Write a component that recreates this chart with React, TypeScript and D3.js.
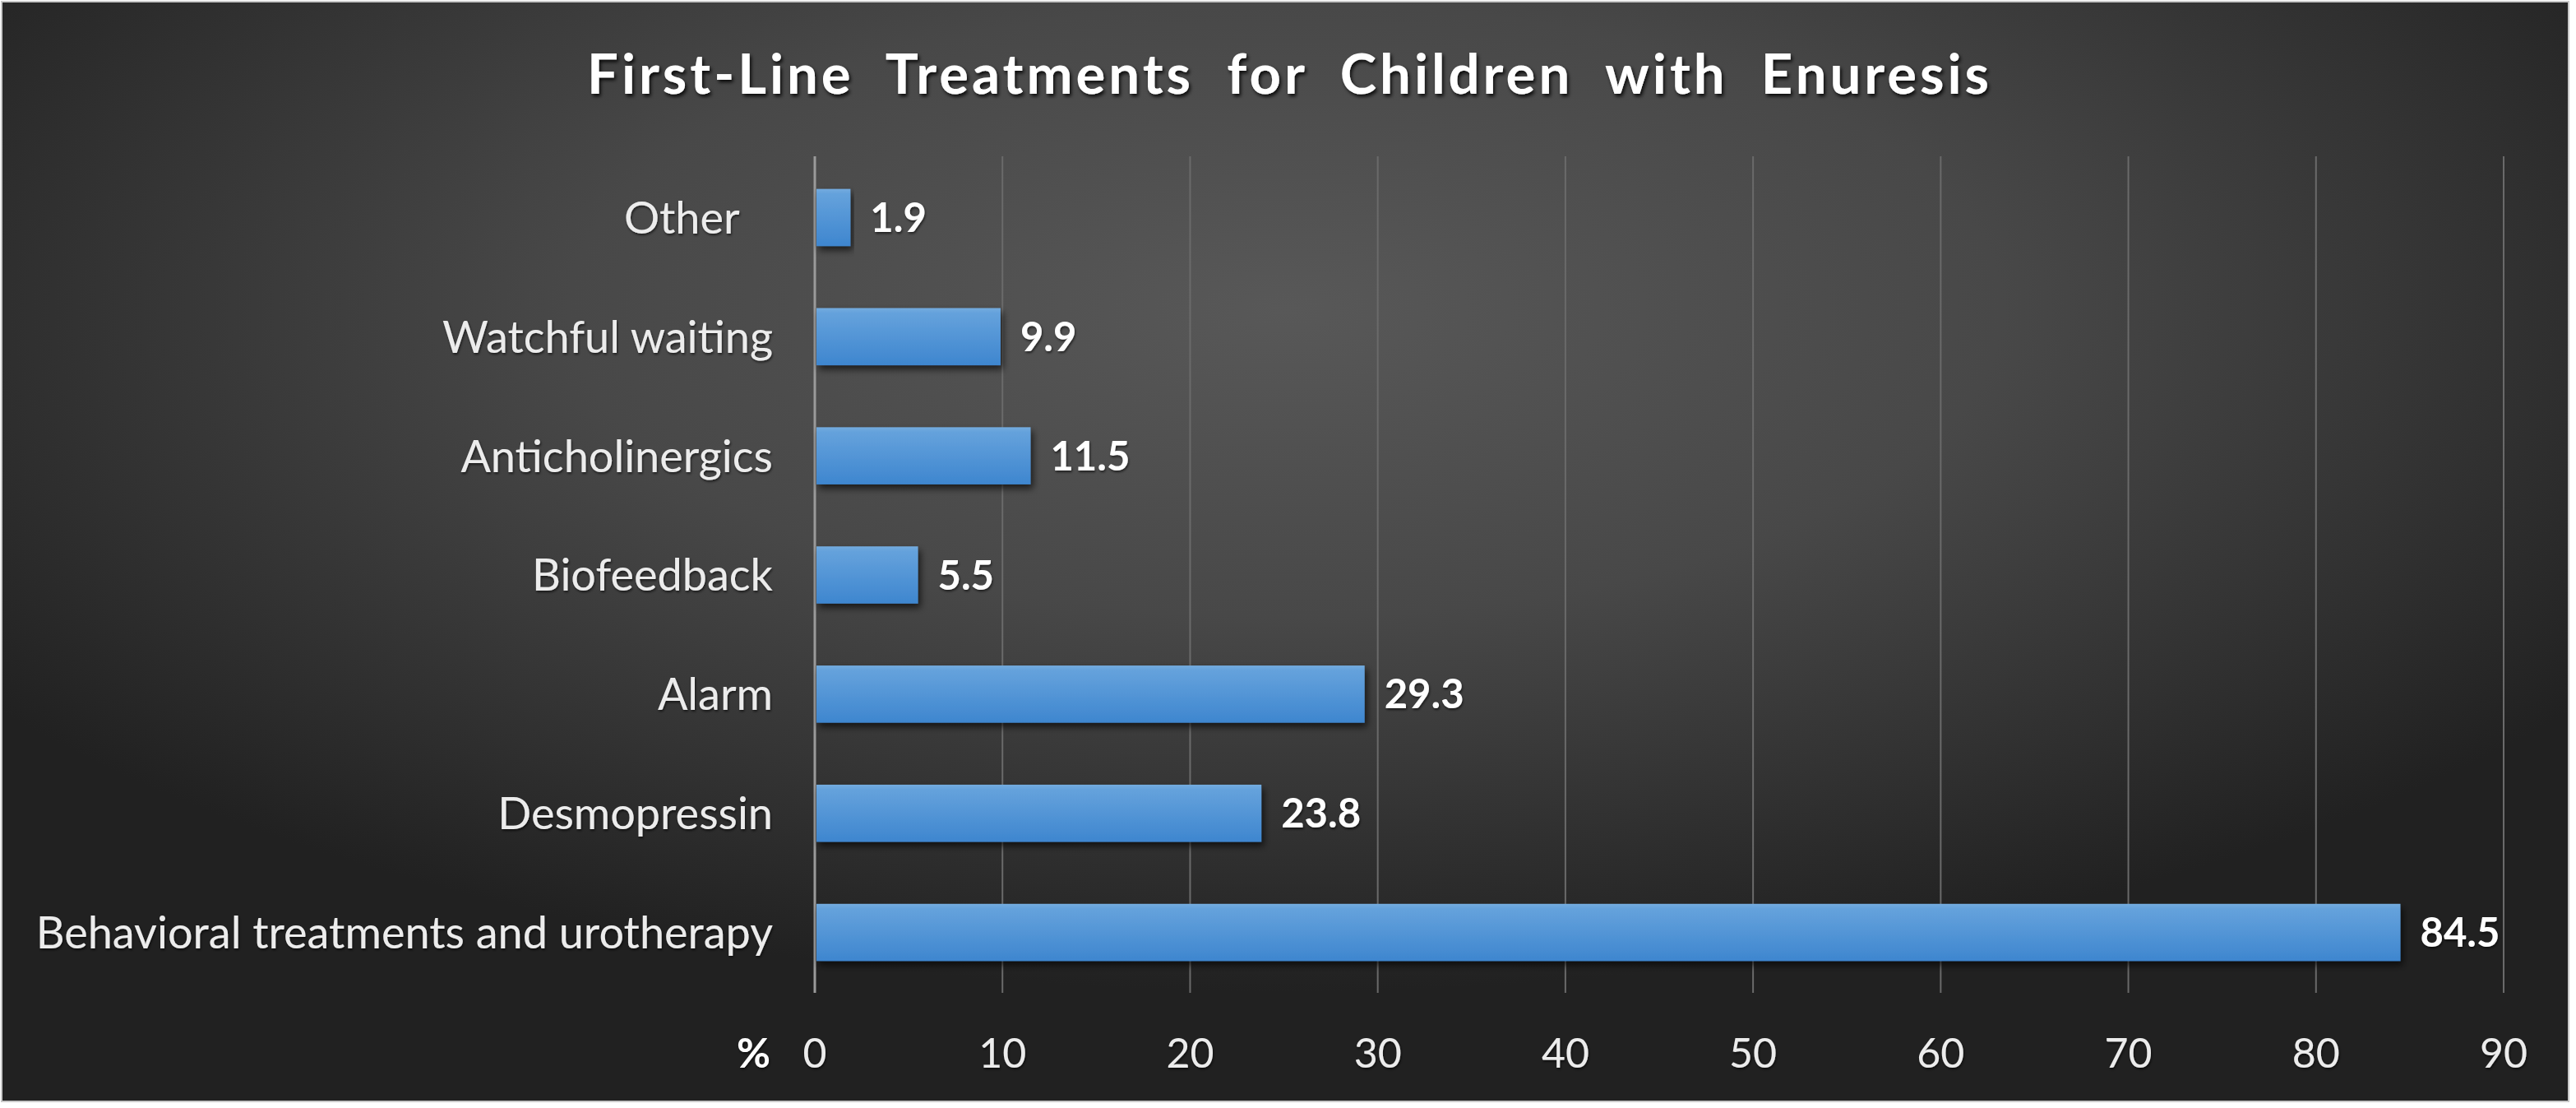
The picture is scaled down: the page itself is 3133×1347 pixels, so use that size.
import * as d3 from "d3";

const categories = [
  "Other   ",
  "Watchful waiting",
  "Anticholinergics",
  "Biofeedback",
  "Alarm",
  "Desmopressin",
  "Behavioral treatments and urotherapy",
];
const values = [1.9, 9.9, 11.5, 5.5, 29.3, 23.8, 84.5];
const xTicks = [0, 10, 20, 30, 40, 50, 60, 70, 80, 90];
const xUnit = "%";
const title = "First-Line Treatments for Children with Enuresis";

const W = 3133;
const H = 1347;
const FONT = "Lato, 'Open Sans', sans-serif";

export default function App() {
  const x = d3.scaleLinear().domain([0, 90]).range([991, 3045]);
  const y = d3
    .scaleBand<string>()
    .domain(categories)
    .range([192, 1206])
    .paddingInner(0.52)
    .paddingOuter(0.26);

  const gridTop = 190;
  const gridBottom = 1207;
  const tickY = 1280;

  return (
    <svg
      width={W}
      height={H}
      style={{ position: "fixed", left: 0, top: 0, background: "#fff" }}
      fontFamily={FONT}
    >
      <defs>
        <radialGradient id="bg" cx="50%" cy="28%" r="62%">
          <stop offset="0%" stopColor="#585858" />
          <stop offset="45%" stopColor="#484848" />
          <stop offset="100%" stopColor="#212121" />
        </radialGradient>
        <linearGradient id="bar" x1="0" y1="0" x2="0" y2="1">
          <stop offset="0%" stopColor="#74acdf" />
          <stop offset="8%" stopColor="#65a2dc" />
          <stop offset="100%" stopColor="#3e86cf" />
        </linearGradient>
        <filter id="barShadow" x="-5%" y="-30%" width="115%" height="180%">
          <feDropShadow dx="3" dy="5" stdDeviation="4" floodColor="#000" floodOpacity="0.65" />
        </filter>
        <filter id="textShadow" x="-5%" y="-30%" width="110%" height="170%">
          <feDropShadow dx="2" dy="3" stdDeviation="2" floodColor="#000" floodOpacity="0.85" />
        </filter>
        <filter id="softShadow" x="-5%" y="-30%" width="110%" height="170%">
          <feDropShadow dx="1" dy="2" stdDeviation="1.5" floodColor="#000" floodOpacity="0.6" />
        </filter>
      </defs>

      <rect x={2} y={2} width={3122} height={1337} fill="url(#bg)" stroke="#c8c8c8" strokeWidth={2} />

      <text
        x={W / 2 + 2}
        y={114}
        textAnchor="middle"
        fill="#ffffff"
        fontSize={67}
        fontWeight="bold"
        style={{ wordSpacing: "20px", letterSpacing: "4px" }}
        filter="url(#textShadow)"
      >
        {title}
      </text>

      {/* vertical gridlines */}
      {xTicks.map((t) => (
        <line
          key={"g" + t}
          x1={x(t)}
          x2={x(t)}
          y1={gridTop}
          y2={gridBottom}
          stroke={t === 0 ? "#9a9a9a" : "#6a6a6a"}
          strokeWidth={t === 0 ? 3 : 2}
        />
      ))}

      {/* bars */}
      {categories.map((c, i) => (
        <rect
          key={"b" + i}
          x={x(0) + 2}
          y={y(c)!}
          width={x(values[i]) - x(0) - 2}
          height={y.bandwidth()}
          fill="url(#bar)"
          filter="url(#barShadow)"
        />
      ))}

      {/* value labels */}
      {categories.map((c, i) => (
        <text
          key={"v" + i}
          x={x(values[i]) + 24}
          y={y(c)! + y.bandwidth() / 2}
          dy="0.36em"
          fill="#ffffff"
          fontSize={49}
          fontWeight="bold"
          filter="url(#softShadow)"
        >
          {values[i].toFixed(1)}
        </text>
      ))}

      {/* category labels */}
      {categories.map((c) => (
        <text
          key={"c" + c}
          x={940}
          y={y(c)! + y.bandwidth() / 2}
          dy="0.36em"
          textAnchor="end"
          fill="#ececec"
          fontSize={54}
          style={{ whiteSpace: "pre" }}
          filter="url(#softShadow)"
        >
          {c}
        </text>
      ))}

      {/* x tick labels */}
      {xTicks.map((t) => (
        <text
          key={"t" + t}
          x={x(t)}
          y={tickY}
          dy="0.36em"
          textAnchor="middle"
          fill="#ececec"
          fontSize={50}
          filter="url(#softShadow)"
        >
          {t}
        </text>
      ))}
      <text
        x={937}
        y={tickY}
        dy="0.36em"
        textAnchor="end"
        fill="#ffffff"
        fontSize={50}
        fontWeight="bold"
        filter="url(#softShadow)"
      >
        {xUnit}
      </text>
    </svg>
  );
}
